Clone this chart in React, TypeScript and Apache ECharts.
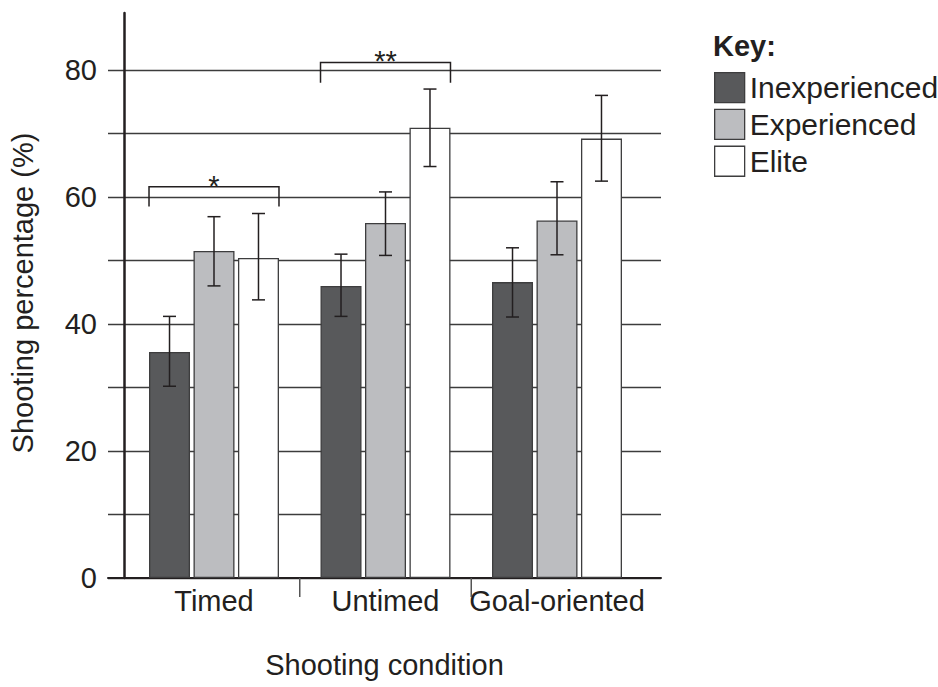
import React, { useEffect, useRef } from "react";
import * as echarts from "echarts";

const categories = ["Timed", "Untimed", "Goal-oriented"];
const seriesNames = ["Inexperienced", "Experienced", "Elite"];
const inexperienced = [35.6, 46.0, 46.6];
const experienced = [51.5, 55.9, 56.3];
const elite = [50.4, 70.9, 69.2];
const inexperiencedErr = [[30.2, 41.2], [41.2, 51.0], [41.1, 52.0]];
const experiencedErr = [[46.0, 56.9], [50.8, 60.8], [50.9, 62.4]];
const eliteErr = [[43.8, 57.4], [64.8, 77.0], [62.5, 76.0]];
const sigCategories = [0, 1];
const sigBracketTop = [61.6, 81.2];
const sigBracketLeg = [58.5, 78.0];
const sigLabels = ["*", "**"];
const separatorAt = [1, 2];
const yTicks = [0, 20, 40, 60, 80];

const FONT = "'Liberation Sans', Arial, Helvetica, sans-serif";
const TEXT = "#231f20";
const GRID_LINE = "#3c3c3c";
const BORDER = "#3d3d3e";
const COLORS = ["#58595b", "#bcbdc0", "#ffffff"];
const BAR_W = 41;
const GAP_RATIO = 0.085;
const STEP = BAR_W * (1 + GAP_RATIO);
const CAP = 6.5;
const FS = 29;

export default function App() {
  const ref = useRef<HTMLDivElement>(null);

  useEffect(() => {
    if (!ref.current) return;
    const chart = echarts.init(ref.current, null, { renderer: "svg" });

    const values = [inexperienced, experienced, elite];
    const errs = [inexperiencedErr, experiencedErr, eliteErr];

    const barSeries = seriesNames.map((name, k) => ({
      name,
      type: "bar",
      xAxisIndex: 0,
      yAxisIndex: 0,
      barWidth: BAR_W,
      barGap: GAP_RATIO * 100 + "%",
      z: 2,
      itemStyle: { color: COLORS[k], borderColor: BORDER, borderWidth: 1.3 },
      data: values[k],
    }));

    const errSeries = errs.map((e, k) => ({
      type: "custom",
      name: seriesNames[k] + " error",
      xAxisIndex: 0,
      yAxisIndex: 0,
      z: 4,
      encode: { x: 0, y: [1, 2] },
      data: e.map((r, i) => [i, r[0], r[1]]),
      renderItem: (params: any, api: any) => {
        const lo = api.coord([api.value(0), api.value(1)]);
        const hi = api.coord([api.value(0), api.value(2)]);
        const x = lo[0] + (k - 1) * STEP;
        const st = { stroke: TEXT, lineWidth: 1.5 };
        return {
          type: "group",
          children: [
            { type: "line", shape: { x1: x, y1: lo[1], x2: x, y2: hi[1] }, style: st },
            { type: "line", shape: { x1: x - CAP, y1: hi[1], x2: x + CAP, y2: hi[1] }, style: st },
            { type: "line", shape: { x1: x - CAP, y1: lo[1], x2: x + CAP, y2: lo[1] }, style: st },
          ],
        };
      },
    }));

    const bracketSeries = {
      type: "custom",
      name: "significance",
      xAxisIndex: 0,
      yAxisIndex: 0,
      z: 4,
      clip: false,
      encode: { x: 0, y: [1, 2] },
      data: sigCategories.map((c, i) => [c, sigBracketTop[i], sigBracketLeg[i]]),
      renderItem: (params: any, api: any) => {
        const top = api.coord([api.value(0), api.value(1)]);
        const leg = api.coord([api.value(0), api.value(2)]);
        const half = (3 * BAR_W + 2 * BAR_W * GAP_RATIO) / 2;
        const x = top[0];
        return {
          type: "group",
          children: [
            {
              type: "polyline",
              shape: {
                points: [
                  [x - half, leg[1]],
                  [x - half, top[1]],
                  [x + half, top[1]],
                  [x + half, leg[1]],
                ],
              },
              style: { stroke: TEXT, lineWidth: 1.5, fill: null },
            },
            {
              type: "text",
              x: x,
              y: top[1] - 1,
              style: {
                text: sigLabels[params.dataIndex],
                align: "center",
                verticalAlign: "middle",
                fontSize: FS,
                fontFamily: FONT,
                fill: TEXT,
              },
            },
          ],
        };
      },
    };

    const separatorSeries = {
      type: "custom",
      name: "separators",
      xAxisIndex: 0,
      yAxisIndex: 0,
      z: 4,
      clip: false,
      encode: { x: 0, y: 1 },
      data: separatorAt.map((s) => [s, 0]),
      renderItem: (params: any, api: any) => {
        const c = api.coord([api.value(0), 0]);
        const bw = api.size([1, 0])[0];
        const x = c[0] - bw / 2;
        return {
          type: "line",
          shape: { x1: x, y1: c[1], x2: x, y2: c[1] + 19 },
          style: { stroke: "#555555", lineWidth: 1.5 },
        };
      },
    };

    chart.setOption({
      animation: false,
      backgroundColor: "#ffffff",
      title: {
        text: "Key:",
        left: 713,
        top: 31,
        padding: 0,
        textStyle: { fontSize: FS, fontWeight: "bold", color: TEXT, fontFamily: FONT },
      },
      legend: {
        data: seriesNames,
        orient: "vertical",
        left: 714,
        top: 72,
        padding: 0,
        itemWidth: 30,
        itemHeight: 30,
        itemGap: 5.5,
        icon: "rect",
        selectedMode: false,
        itemStyle: { borderColor: BORDER, borderWidth: 1.3 },
        textStyle: { fontSize: 30, color: TEXT, fontFamily: FONT, padding: [0, 0, 10, 0] },
      },
      graphic: [
        {
          type: "text",
          x: 23,
          y: 293,
          rotation: Math.PI / 2,
          style: {
            text: "Shooting percentage (%)",
            align: "center",
            verticalAlign: "middle",
            fontSize: FS,
            fontFamily: FONT,
            fill: TEXT,
          },
        },
      ],
      grid: [
        { left: 128.25, right: 295.25, top: 70, bottom: 109 },
        { left: 108, right: 277, top: 70, bottom: 109 },
        { left: 124, width: 1, top: 13, bottom: 109 },
      ],
      xAxis: [
        {
          gridIndex: 0,
          type: "category",
          data: categories,
          axisLine: { show: false },
          axisTick: { show: false },
          splitLine: { show: false },
          axisLabel: { interval: 0, fontSize: FS, color: TEXT, fontFamily: FONT, margin: 8 },
        },
        {
          gridIndex: 1,
          type: "value",
          min: 0,
          max: 1,
          axisLine: { show: true, lineStyle: { color: TEXT, width: 2 } },
          axisTick: { show: false },
          axisLabel: { show: false },
          splitLine: { show: false },
          name: "Shooting condition",
          nameLocation: "middle",
          nameGap: 72,
          nameTextStyle: { fontSize: FS, color: TEXT, fontFamily: FONT },
        },
        { gridIndex: 2, type: "value", min: 0, max: 1, show: false },
      ],
      yAxis: [
        { gridIndex: 0, type: "value", min: 0, max: 80, show: false },
        {
          gridIndex: 1,
          type: "value",
          min: 0,
          max: 80,
          interval: 10,
          axisLine: { show: false },
          axisTick: { show: false },
          splitLine: { show: true, lineStyle: { color: GRID_LINE, width: 1.3 } },
          axisLabel: {
            fontSize: FS,
            color: TEXT,
            fontFamily: FONT,
            margin: 11,
            formatter: (v: number) => (yTicks.includes(v) ? String(v) : ""),
          },
        },
        {
          gridIndex: 2,
          type: "value",
          min: 0,
          max: 1,
          axisLine: { show: true, lineStyle: { color: TEXT, width: 2.5 } },
          axisTick: { show: false },
          axisLabel: { show: false },
          splitLine: { show: false },
        },
      ],
      series: [...barSeries, ...errSeries, bracketSeries, separatorSeries],
    });

    return () => chart.dispose();
  }, []);

  return (
    <div
      ref={ref}
      style={{ position: "fixed", left: 0, top: 0, width: 938, height: 687 }}
    />
  );
}
